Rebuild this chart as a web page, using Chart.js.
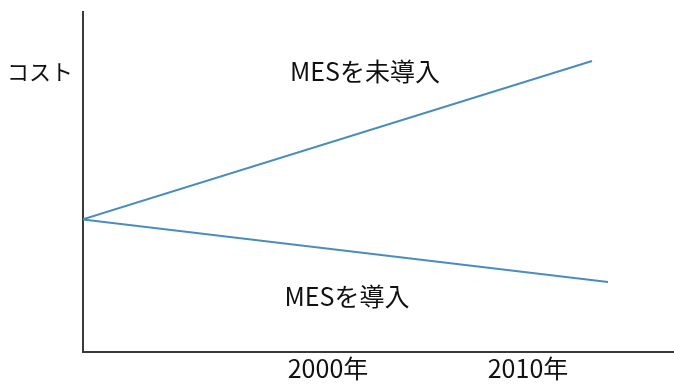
<!DOCTYPE html>
<html>
<head>
<meta charset="utf-8">
<script src="https://cdn.jsdelivr.net/npm/chart.js@4"></script>
<style>
  html, body { margin: 0; padding: 0; background: #fff; }
  #wrap { width: 674px; height: 385px; }
</style>
</head>
<body>
<div id="wrap"><canvas id="chart" width="674" height="385"></canvas></div>
<script>
// data
const years = [1987.75, 2013.2];
const withoutMes = [39, 85.6];
const yearsWith = [1987.75, 2014.0];
const withMes = [39, 20.6];
const xTicks = [2000, 2010];
const xTickLabels = ['2000年', '2010年'];
const yTickValue = 82.6;
const yTickLabel = 'コスト';
const seriesLabels = ['MESを未導入', 'MESを導入'];

const FONT = "'Noto Sans CJK JP', 'Noto Sans', sans-serif";
const lineColor = '#4a8dbb';

// labels for the two lines, placed in data coordinates
const lineTags = [
  { text: seriesLabels[0], x: 2001.85, y: 82.5 },
  { text: seriesLabels[1], x: 2000.95, y: 16.2 },
];

const tagPlugin = {
  id: 'lineTags',
  afterDatasetsDraw(chart) {
    const { ctx, scales } = chart;
    ctx.save();
    ctx.font = `25px ${FONT}`;
    ctx.fillStyle = '#111';
    ctx.textAlign = 'center';
    ctx.textBaseline = 'middle';
    lineTags.forEach((t) => {
      ctx.fillText(t.text, scales.x.getPixelForValue(t.x), scales.y.getPixelForValue(t.y));
    });
    ctx.restore();
  },
};

const toPoints = (xs, ys) => xs.map((x, i) => ({ x, y: ys[i] }));

new Chart(document.getElementById('chart'), {
  type: 'line',
  plugins: [tagPlugin],
  data: {
    datasets: [
      {
        label: seriesLabels[0],
        data: toPoints(years, withoutMes),
        borderColor: lineColor,
        borderWidth: 2,
        pointRadius: 0,
      },
      {
        label: seriesLabels[1],
        data: toPoints(yearsWith, withMes),
        borderColor: lineColor,
        borderWidth: 2,
        pointRadius: 0,
      },
    ],
  },
  options: {
    responsive: false,
    animation: false,
    layout: { padding: { top: 12, right: 1, left: 0, bottom: 0 } },
    plugins: { legend: { display: false }, tooltip: { enabled: false } },
    scales: {
      x: {
        type: 'linear',
        min: 1987.75,
        max: 2017.25,
        grid: { display: false },
        border: { display: true, color: '#3a3a3a', width: 2 },
        afterBuildTicks(scale) { scale.ticks = xTicks.map((v) => ({ value: v })); },
        afterFit(scale) {
          scale.height = 33;
          scale.paddingLeft = 0;
          scale.paddingRight = 0;
        },
        ticks: {
          color: '#111',
          padding: -7,
          font: { family: FONT, size: 25 },
          callback: (v) => xTickLabels[xTicks.indexOf(v)],
        },
      },
      y: {
        type: 'linear',
        min: 0,
        max: 100,
        grid: { display: false },
        border: { display: true, color: '#3a3a3a', width: 2 },
        afterBuildTicks(scale) { scale.ticks = [{ value: yTickValue }]; },
        afterFit(scale) {
          scale.width = 83;
          scale.paddingTop = 0;
          scale.paddingBottom = 0;
        },
        ticks: {
          color: '#111',
          padding: 2,
          font: { family: FONT, size: 22 },
          callback: () => yTickLabel,
        },
      },
    },
  },
});
</script>
</body>
</html>
